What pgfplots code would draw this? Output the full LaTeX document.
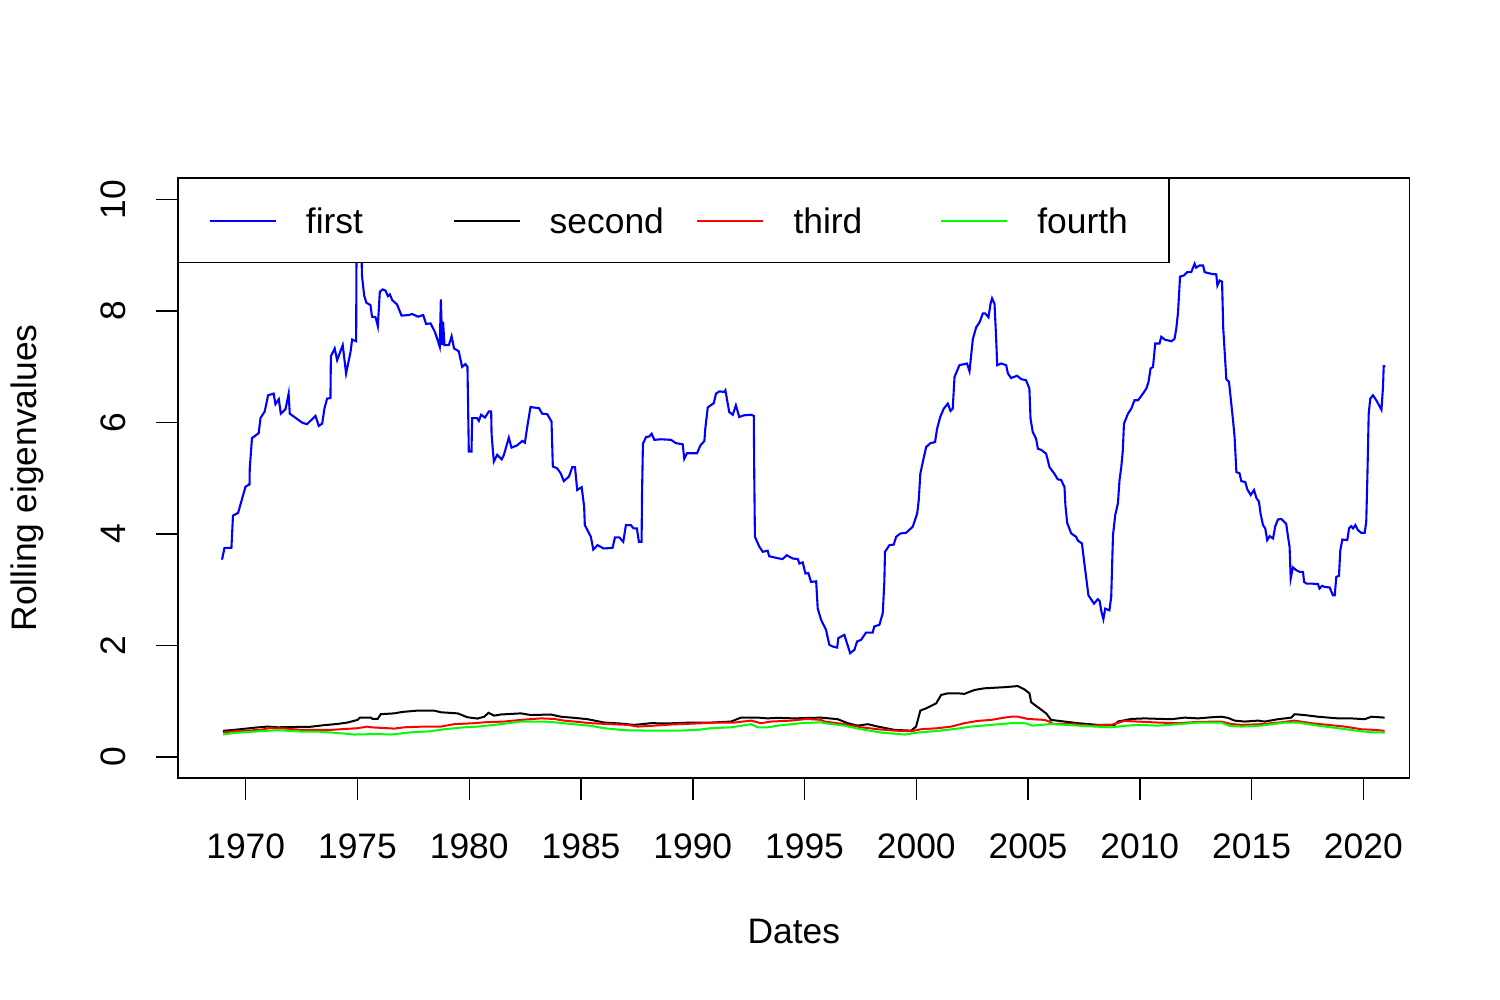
\documentclass[border=0pt]{standalone}
\usepackage{fontspec}
\setmainfont{Liberation Sans}
\usepackage{pgfplots}
\pgfplotsset{compat=1.18}
\definecolor{rblue}{RGB}{0,0,255}
\definecolor{rred}{RGB}{255,0,0}
\definecolor{rgreen}{RGB}{0,255,0}
\newcommand{\rfont}{\fontsize{17.7bp}{21bp}\selectfont}
\begin{document}
\rfont
\begin{tikzpicture}
\useasboundingbox (-89bp,-111bp) rectangle (661bp,389bp);
\begin{axis}[
  scale only axis, width=615.8bp, height=300bp,
  at={(0,0)}, anchor=south west,
  xmin=1966.97, xmax=2022.07, ymin=-0.38, ymax=10.39,
  xtick={1970,1975,...,2020}, ytick={0,2,4,6,8,10},
  xtick pos=left, ytick pos=left,
  tick align=outside, major tick length=11bp,
  tick style={black, line width=0.75bp},
  axis line style={line width=0.75bp},
  /pgf/number format/assume math mode=true,
  /pgf/number format/1000 sep={},
  tick label style={font=\rfont},
  xticklabel style={anchor=base}, xticklabel shift=29bp,
  yticklabel style={rotate=90, anchor=base}, yticklabel shift=15.5bp,
  every axis x label/.style={at={(axis description cs:0.5,-0.2766)}, anchor=base, font=\rfont},
  every axis y label/.style={at={(axis description cs:-0.1145,0.5)}, rotate=90, anchor=base, font=\rfont},
  xlabel={Dates}, ylabel={Rolling eigenvalues},
  legend columns=4,
  legend image code/.code={\draw[#1, line width=1bp] (0bp,0bp) -- (33bp,0bp);},
  legend style={at={(axis description cs:0,1)}, anchor=north west,
    draw=black, line width=0.75bp, fill=white,
    inner xsep=15bp, inner ysep=14.5bp,
    font=\rfont,
    nodes={inner sep=0pt, text depth=0pt},
    /tikz/every odd column/.append style={column sep=14.6bp},
    /tikz/every even column/.append style={column sep=0pt}},
  legend cell align=left,
]
\addplot[rblue, line width=1.05bp] table {
1968.94 3.54
1969.05 3.75
1969.36 3.75
1969.43 4.33
1969.66 4.38
1969.99 4.85
1970.17 4.89
1970.18 5.18
1970.28 5.72
1970.58 5.81
1970.66 6.08
1970.85 6.20
1971.00 6.49
1971.25 6.52
1971.33 6.33
1971.48 6.42
1971.57 6.16
1971.78 6.24
1971.92 6.52
1971.97 6.16
1972.52 6.00
1972.74 5.97
1973.12 6.12
1973.27 5.94
1973.42 5.98
1973.52 6.25
1973.64 6.43
1973.79 6.44
1973.81 7.19
1973.98 7.33
1974.09 7.12
1974.34 7.39
1974.49 6.88
1974.69 7.27
1974.76 7.49
1974.94 7.46
1974.96 9.40
1975.16 9.40
1975.20 8.64
1975.30 8.28
1975.40 8.15
1975.58 8.11
1975.65 7.90
1975.81 7.89
1975.91 7.73
1976.00 8.35
1976.13 8.39
1976.25 8.37
1976.36 8.27
1976.45 8.30
1976.55 8.20
1976.77 8.12
1976.97 7.92
1977.30 7.93
1977.44 7.95
1977.71 7.90
1977.94 7.93
1978.07 7.77
1978.27 7.78
1978.46 7.63
1978.56 7.51
1978.68 7.36
1978.73 8.21
1978.79 7.39
1978.83 7.81
1978.89 7.39
1979.09 7.39
1979.21 7.55
1979.32 7.33
1979.53 7.28
1979.68 7.00
1979.83 7.05
1979.92 7.00
1979.95 6.25
1979.98 5.48
1980.10 5.48
1980.13 6.08
1980.35 6.08
1980.43 6.03
1980.53 6.14
1980.70 6.09
1980.88 6.20
1980.98 6.20
1981.00 5.78
1981.10 5.30
1981.25 5.42
1981.45 5.34
1981.55 5.42
1981.77 5.73
1981.89 5.55
1982.14 5.59
1982.37 5.67
1982.49 5.64
1982.59 5.91
1982.74 6.28
1982.89 6.27
1983.12 6.26
1983.26 6.16
1983.49 6.15
1983.68 6.02
1983.74 5.21
1983.93 5.18
1984.09 5.09
1984.23 4.95
1984.46 5.03
1984.61 5.20
1984.73 5.20
1984.83 4.79
1985.03 4.84
1985.14 4.49
1985.17 4.16
1985.44 3.95
1985.55 3.72
1985.74 3.80
1986.01 3.74
1986.41 3.75
1986.52 3.94
1986.71 3.94
1986.89 3.86
1987.01 4.16
1987.23 4.16
1987.35 4.10
1987.50 4.10
1987.59 3.86
1987.71 3.86
1987.73 4.72
1987.77 5.62
1987.91 5.74
1988.05 5.75
1988.16 5.80
1988.28 5.69
1988.58 5.70
1989.02 5.69
1989.25 5.63
1989.55 5.61
1989.62 5.35
1989.74 5.45
1990.19 5.45
1990.34 5.59
1990.52 5.67
1990.56 5.89
1990.67 6.27
1990.94 6.35
1991.04 6.52
1991.19 6.56
1991.41 6.55
1991.46 6.58
1991.63 6.19
1991.79 6.14
1991.93 6.31
1992.08 6.10
1992.28 6.13
1992.61 6.14
1992.73 6.12
1992.75 5.08
1992.78 3.95
1992.98 3.77
1993.13 3.68
1993.35 3.70
1993.42 3.60
1993.87 3.56
1994.02 3.55
1994.20 3.62
1994.47 3.56
1994.70 3.55
1994.77 3.47
1994.92 3.49
1995.04 3.29
1995.17 3.30
1995.29 3.14
1995.52 3.15
1995.59 2.66
1995.74 2.46
1995.96 2.28
1996.11 2.01
1996.26 1.98
1996.46 1.96
1996.51 2.13
1996.78 2.19
1996.90 2.04
1997.04 1.86
1997.23 1.92
1997.35 2.07
1997.53 2.10
1997.75 2.23
1998.05 2.23
1998.12 2.34
1998.35 2.37
1998.50 2.58
1998.57 3.14
1998.60 3.68
1998.80 3.80
1998.99 3.81
1999.10 3.95
1999.29 4.01
1999.54 4.02
1999.84 4.13
2000.04 4.37
2000.11 4.61
2000.18 5.08
2000.29 5.29
2000.44 5.56
2000.63 5.63
2000.84 5.65
2000.93 5.89
2001.07 6.10
2001.23 6.25
2001.41 6.34
2001.53 6.21
2001.63 6.25
2001.71 6.82
2001.93 7.03
2002.27 7.06
2002.38 6.92
2002.53 7.50
2002.68 7.71
2002.83 7.80
2002.98 7.96
2003.08 7.96
2003.23 7.89
2003.32 8.13
2003.39 8.23
2003.50 8.13
2003.57 7.53
2003.62 7.03
2003.80 7.06
2004.02 7.03
2004.10 6.88
2004.24 6.80
2004.51 6.84
2004.69 6.78
2004.91 6.76
2005.06 6.61
2005.11 6.07
2005.21 5.83
2005.36 5.71
2005.44 5.53
2005.59 5.51
2005.81 5.44
2005.96 5.20
2006.18 5.08
2006.33 4.98
2006.48 4.97
2006.63 4.84
2006.67 4.52
2006.75 4.20
2006.93 4.01
2007.15 3.95
2007.23 3.88
2007.41 3.83
2007.52 3.47
2007.60 3.22
2007.70 2.90
2007.95 2.75
2008.12 2.83
2008.20 2.80
2008.27 2.63
2008.37 2.47
2008.45 2.66
2008.64 2.63
2008.72 2.87
2008.80 3.98
2008.90 4.34
2009.02 4.55
2009.09 4.96
2009.17 5.20
2009.24 5.50
2009.29 5.98
2009.47 6.16
2009.62 6.25
2009.76 6.40
2009.92 6.40
2010.14 6.52
2010.29 6.61
2010.39 6.73
2010.48 6.97
2010.59 7.00
2010.69 7.42
2010.88 7.42
2010.96 7.54
2011.11 7.49
2011.41 7.46
2011.55 7.50
2011.63 7.68
2011.71 7.98
2011.80 8.62
2011.97 8.64
2012.12 8.70
2012.30 8.70
2012.45 8.85
2012.52 8.78
2012.67 8.82
2012.83 8.82
2012.90 8.70
2013.20 8.67
2013.42 8.66
2013.47 8.46
2013.57 8.55
2013.68 8.53
2013.73 7.71
2013.82 7.11
2013.87 6.78
2013.99 6.73
2014.06 6.46
2014.17 6.04
2014.24 5.74
2014.32 5.11
2014.46 5.09
2014.54 4.95
2014.72 4.93
2014.81 4.80
2014.96 4.70
2015.11 4.79
2015.21 4.65
2015.33 4.58
2015.40 4.37
2015.51 4.16
2015.61 4.10
2015.70 3.89
2015.81 3.96
2015.96 3.92
2016.06 4.14
2016.18 4.26
2016.33 4.27
2016.55 4.18
2016.63 3.95
2016.70 3.77
2016.75 3.20
2016.85 3.40
2017.00 3.35
2017.15 3.32
2017.30 3.32
2017.35 3.14
2017.45 3.11
2017.67 3.11
2017.97 3.10
2018.04 3.02
2018.15 3.07
2018.27 3.05
2018.49 3.04
2018.64 2.90
2018.72 2.90
2018.79 3.23
2018.91 3.25
2018.97 3.71
2019.06 3.90
2019.28 3.89
2019.36 4.10
2019.46 4.14
2019.54 4.10
2019.64 4.16
2019.76 4.07
2019.91 4.02
2020.06 4.02
2020.13 4.22
2020.18 5.02
2020.24 6.16
2020.31 6.43
2020.43 6.49
2020.58 6.40
2020.73 6.29
2020.81 6.23
2020.88 6.64
2020.91 7.01
2020.98 7.01
};
\addlegendentry{\makebox[73.3bp][l]{first}}
\addplot[black, line width=1bp] table {
1968.98 0.466
1969.48 0.484
1970.45 0.525
1970.97 0.543
1971.42 0.53
1972.91 0.54
1973.50 0.568
1974.10 0.59
1974.55 0.615
1975.00 0.663
1975.12 0.705
1975.60 0.705
1975.67 0.68
1975.90 0.68
1976.04 0.765
1976.64 0.78
1977.01 0.806
1977.69 0.83
1978.43 0.83
1978.73 0.80
1979.48 0.78
1979.92 0.71
1980.37 0.687
1980.67 0.72
1980.86 0.79
1981.11 0.74
1981.41 0.76
1982.31 0.78
1982.76 0.75
1983.65 0.76
1984.10 0.72
1984.70 0.70
1985.30 0.675
1985.89 0.627
1986.04 0.615
1986.79 0.597
1987.38 0.573
1988.13 0.604
1988.88 0.60
1989.92 0.615
1990.81 0.615
1991.71 0.633
1992.16 0.704
1992.91 0.704
1993.35 0.69
1993.80 0.70
1994.54 0.69
1995.74 0.704
1996.49 0.675
1996.93 0.604
1997.38 0.56
1997.83 0.586
1998.28 0.543
1999.02 0.484
1999.77 0.47
1999.99 0.543
2000.18 0.83
2000.44 0.87
2000.66 0.914
2000.89 0.96
2001.11 1.11
2001.41 1.14
2001.86 1.14
2002.15 1.13
2002.60 1.20
2003.05 1.23
2003.94 1.25
2004.54 1.27
2004.84 1.21
2005.06 1.14
2005.14 0.98
2005.44 0.89
2005.81 0.78
2006.03 0.663
2006.63 0.633
2007.23 0.604
2008.12 0.573
2008.87 0.573
2009.02 0.633
2009.62 0.68
2010.21 0.69
2010.96 0.68
2011.41 0.675
2012.00 0.704
2012.60 0.69
2013.20 0.71
2013.64 0.72
2013.94 0.70
2014.24 0.65
2014.69 0.633
2015.29 0.65
2015.58 0.633
2016.18 0.675
2016.78 0.704
2016.92 0.765
2017.37 0.75
2017.97 0.72
2018.87 0.69
2019.46 0.69
2020.06 0.675
2020.36 0.72
2020.95 0.704
};
\addlegendentry{\makebox[73.3bp][l]{second}}
\addplot[rred, line width=1bp] table {
1968.98 0.436
1969.48 0.46
1970.67 0.484
1971.04 0.514
1971.71 0.51
1972.46 0.484
1973.80 0.484
1975.00 0.514
1975.45 0.543
1975.60 0.53
1976.64 0.507
1977.09 0.53
1977.98 0.543
1978.73 0.543
1979.32 0.586
1980.22 0.604
1980.67 0.62
1981.56 0.633
1982.31 0.663
1983.21 0.69
1983.80 0.68
1984.25 0.65
1984.70 0.633
1985.44 0.604
1986.34 0.586
1987.09 0.573
1987.53 0.543
1988.13 0.556
1989.02 0.58
1990.07 0.597
1991.11 0.615
1991.86 0.615
1992.61 0.65
1993.05 0.604
1993.50 0.633
1994.40 0.65
1994.99 0.675
1995.29 0.675
1995.74 0.663
1995.89 0.633
1996.78 0.586
1997.53 0.53
1998.28 0.495
1999.02 0.47
1999.77 0.46
2000.21 0.495
2000.96 0.514
2001.56 0.543
2002.15 0.604
2002.75 0.645
2003.35 0.663
2003.94 0.704
2004.24 0.72
2004.54 0.72
2004.99 0.68
2005.73 0.663
2005.96 0.633
2006.11 0.59
2006.93 0.59
2007.82 0.56
2008.42 0.573
2008.72 0.573
2009.31 0.645
2009.91 0.633
2010.81 0.615
2011.71 0.604
2012.60 0.627
2013.64 0.633
2014.09 0.59
2014.54 0.573
2015.43 0.586
2016.33 0.62
2016.92 0.65
2017.67 0.604
2018.42 0.573
2019.16 0.543
2019.91 0.495
2020.51 0.484
2020.95 0.466
};
\addlegendentry{\makebox[73.3bp][l]{third}}
\addplot[rgreen, line width=1bp] table {
1968.98 0.40
1969.48 0.43
1970.67 0.46
1971.42 0.478
1972.46 0.454
1973.36 0.45
1974.40 0.418
1974.85 0.40
1975.90 0.41
1976.49 0.40
1977.39 0.44
1978.28 0.46
1978.88 0.495
1979.77 0.53
1980.37 0.543
1981.27 0.58
1982.31 0.633
1983.35 0.633
1983.95 0.615
1984.55 0.59
1985.44 0.556
1986.04 0.514
1986.93 0.478
1988.13 0.47
1989.32 0.47
1990.22 0.484
1990.81 0.514
1991.71 0.53
1992.31 0.568
1992.61 0.586
1992.91 0.53
1993.35 0.53
1993.80 0.56
1994.84 0.604
1995.74 0.62
1995.89 0.604
1996.78 0.56
1997.53 0.495
1998.42 0.436
1999.47 0.40
2000.07 0.436
2000.96 0.466
2001.71 0.50
2002.45 0.543
2003.35 0.573
2004.24 0.604
2004.84 0.604
2005.21 0.56
2006.03 0.59
2007.23 0.56
2007.97 0.543
2008.72 0.53
2009.31 0.556
2009.91 0.573
2010.81 0.56
2011.71 0.586
2012.60 0.615
2013.64 0.615
2014.02 0.556
2014.54 0.543
2015.43 0.56
2016.48 0.615
2017.08 0.615
2017.97 0.56
2018.87 0.514
2019.76 0.466
2020.36 0.44
2020.95 0.436
};
\addlegendentry{\makebox[50.8bp][l]{fourth}}
\end{axis}
\end{tikzpicture}
\end{document}
